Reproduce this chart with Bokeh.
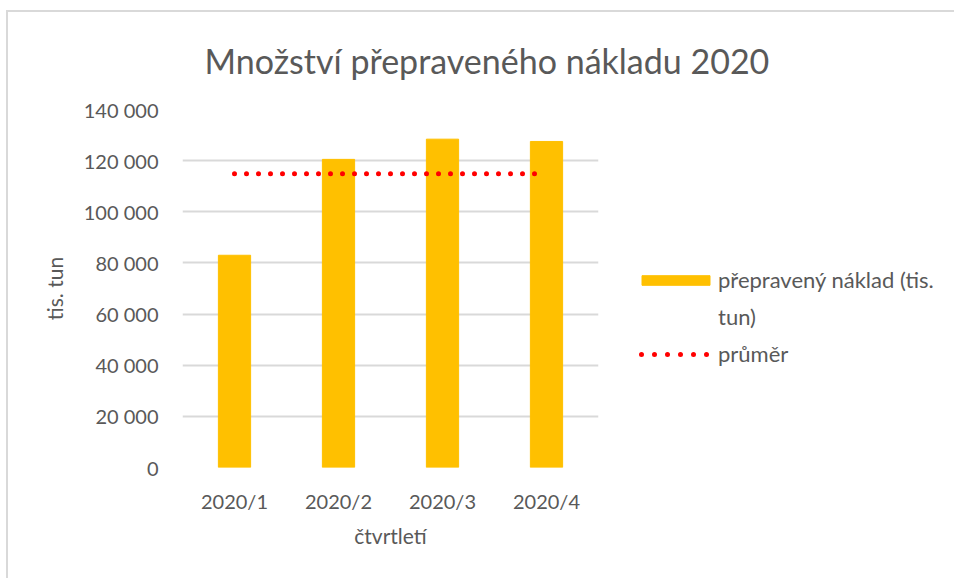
from bokeh.plotting import figure
from bokeh.models import FactorRange, Range1d, Legend, LegendItem, FixedTicker
from bokeh.embed import file_html
from bokeh.resources import INLINE

categories = ["2020/1", "2020/2", "2020/3", "2020/4"]
naklad = [83000, 120500, 128400, 127500]
prumer = [114850, 114850, 114850, 114850]
y_ticks = [0, 20000, 40000, 60000, 80000, 100000, 120000, 140000]
y_tick_labels = ["0", "20 000", "40 000", "60 000", "80 000", "100 000", "120 000", "140 000"]
legend_bar_lines = ["přepravený náklad (tis.", "tun)"]
legend_avg_label = "průměr"

FONT = "Lato"
TXT = "#595959"
GRID = "#D9D9D9"

p = figure(
    x_range=FactorRange(*categories), y_range=Range1d(0, 140000),
    frame_width=416, frame_height=358,
    min_border_left=182, min_border_right=356, min_border_top=109, min_border_bottom=111,
    output_backend="svg", toolbar_location=None,
    title="Množství přepraveného nákladu 2020",
)
p.stylesheets = [
    ":host::after { content: ''; position: absolute; left: 6px; top: 10px; width: 960px; height: 580px;"
    " border-left: 2px solid #D9D9D9; border-top: 2px solid #D9D9D9; pointer-events: none; }"
    " :host { overflow: hidden; }"
]
p.outline_line_color = None

p.title.align = "left"
p.title.offset = 22
p.title.standoff = 58
p.title.text_font = FONT
p.title.text_font_size = "34px"
p.title.text_font_style = "normal"
p.title.text_color = TXT

bars = p.vbar(x=categories, top=naklad, width=0.31, color="#FFC000")
avg = p.line(x=categories, y=prumer, line_color="#FF0000", line_width=5,
             line_dash="0 12", line_cap="round")
# legend-only samples (nothing drawn in the plot area)
nan4 = [float("nan")] * len(categories)
avg_key = p.line(x=categories, y=nan4, line_color="#FF0000", line_width=5,
                 line_dash="0 13", line_dash_offset=5, line_cap="round")
blank = p.line(x=categories, y=nan4, line_alpha=0)

for ax in (p.xaxis[0], p.yaxis[0]):
    ax.axis_line_color = None
    ax.major_tick_line_color = None
    ax.minor_tick_line_color = None
    ax.major_label_text_font = FONT
    ax.major_label_text_font_size = "20px"
    ax.major_label_text_color = TXT
    ax.axis_label_text_font = FONT
    ax.axis_label_text_font_size = "21px"
    ax.axis_label_text_font_style = "normal"
    ax.axis_label_text_color = TXT

p.yaxis.ticker = FixedTicker(ticks=y_ticks)
p.yaxis.major_label_overrides = dict(zip(y_ticks, y_tick_labels))
p.yaxis.major_label_standoff = 18
p.yaxis.axis_label = "tis. tun"
p.yaxis.axis_label_standoff = 14

p.xaxis.major_label_standoff = 15
p.xaxis.axis_label = "čtvrtletí"
p.xaxis.axis_label_standoff = 7

p.xgrid.grid_line_color = None
p.ygrid.grid_line_color = GRID
p.ygrid.grid_line_width = 2

legend = Legend(
    items=[LegendItem(label=legend_bar_lines[0], renderers=[bars]),
           LegendItem(label=legend_bar_lines[1], renderers=[blank]),
           LegendItem(label=legend_avg_label, renderers=[avg_key])],
    location=(35, 100),
    padding=0, margin=0, border_line_color=None, background_fill_alpha=0,
    glyph_width=85, glyph_height=12, label_standoff=0, spacing=10,
    label_text_font=FONT, label_text_font_size="22px", label_text_color=TXT,
    label_height=27,
)
p.add_layout(legend, "right")

open("out.html", "w").write(file_html(p, INLINE))
